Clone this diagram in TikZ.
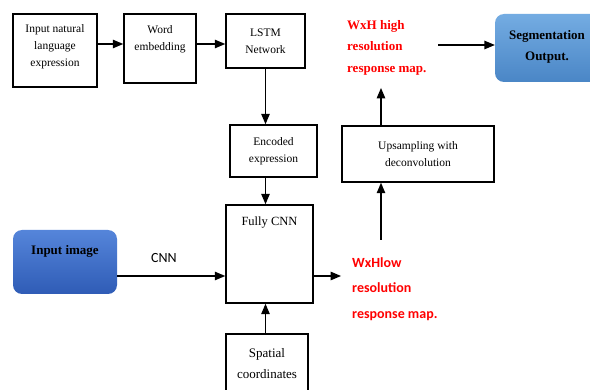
\documentclass[tikz,border=0pt]{standalone}
\usepackage{fontspec}
\setmainfont{Liberation Serif}
\newfontfamily\calib{Carlito}
\usetikzlibrary{arrows, positioning}
\definecolor{imgtop}{HTML}{5585DA}
\definecolor{imgbot}{HTML}{2F5CB6}
\definecolor{segtop}{HTML}{74ACE2}
\definecolor{segbot}{HTML}{4A86C6}
\tikzset{>=triangle 45,
  blk/.style={draw, line width=1.6pt, align=center, inner sep=0pt,
    font=\fontsize{11.5}{17}\selectfont},
  blob/.style={rounded corners=9pt, align=center, inner sep=0pt,
    font=\fontsize{13}{21}\selectfont\bfseries},
  flow/.style={->, line width=1.4pt}}

\begin{document}
\begin{tikzpicture}[x=1pt, y=-1pt]
    \clip (0,0) rectangle (590,390);
    \fill[white] (0,0) rectangle (590,390);
    % text branch
    \node[blk, minimum width=84pt, minimum height=73pt, text depth=10pt] (natlang) at (55,50.5) {Input natural\\language\\expression};
    \node[blk, minimum width=72pt, minimum height=69pt, text depth=20pt] (wordemb) at (160,48.5) {Word\\embedding};
    \node[blk, minimum width=79pt, minimum height=54pt] (lstm) at (265.5,41) {LSTM\\Network};
    \node[blk, minimum width=87pt, minimum height=52pt] (enc) at (273.5,151) {Encoded\\expression};
    % image branch
    \node[blk, minimum width=87pt, minimum height=98pt] (fcnn) at (269.5,254) {};
    \node[font=\fontsize{12.5}{15}\selectfont, below=9pt of fcnn.north] (fcnnlbl) {Fully CNN};
    \node[blk, minimum width=82pt, minimum height=70pt, text depth=12pt,
      font=\fontsize{13}{21}\selectfont] (spatial) at (267,369) {Spatial\\coordinates};
    \node[blob, top color=imgtop, bottom color=imgbot, minimum width=104pt, minimum height=64pt] (inimg) at (65,262) {};
    \node[font=\fontsize{13}{15}\selectfont\bfseries, below=12pt of inimg.north] (inimglbl) {Input image};
    \node[font=\calib\fontsize{14}{16}\selectfont] (cnnlbl) at (164,258) {CNN};
    % output side
    \node[font=\calib\fontsize{14}{25.5}\selectfont\bfseries, text=red, align=left,
      anchor=north west, inner sep=0pt] (lores) at (352,257) {WxHlow\\resolution\\response map.};
    \node[blk, minimum width=152pt, minimum height=56pt] (upsamp) at (418,154) {Upsampling with\\deconvolution};
    \node[font=\rmfamily\fontsize{13}{21.5}\selectfont\bfseries, text=red, align=left,
      anchor=north west, inner sep=0pt] (hires) at (347,20) {WxH high\\resolution\\response map.};
    \node[blob, top color=segtop, bottom color=segbot, minimum width=104pt, minimum height=68pt,
      text depth=6pt] (segout) at (547,48) {Segmentation\\Output.};
    \coordinate (lotop) at (381,240);
    \coordinate (fcout) at (341,276);
    \coordinate (histart) at (438,45);
    % connectors
    \draw[flow] (natlang.east |- 0,44) -- (wordemb.west |- 0,44);
    \draw[flow] (wordemb.east |- 0,44) -- (lstm.west |- 0,44);
    \draw[flow] (lstm.south) -- (lstm.south |- enc.north);
    \draw[flow] (lstm.south |- enc.south) -- (lstm.south |- fcnn.north);
    \draw[flow] (inimg.east |- 0,276) -- (fcnn.west |- 0,276);
    \draw[flow] (fcnn.east |- fcout) -- (fcout);
    \draw[flow] (spatial.north -| lstm.south) -- (fcnn.south -| lstm.south);
    \draw[flow] (lotop) -- (lotop |- upsamp.south);
    \draw[flow] (lotop |- upsamp.north) -- (lotop |- 0,88);
    \draw[flow] (histart) -- (segout.west |- histart);
\end{tikzpicture}
\end{document}
